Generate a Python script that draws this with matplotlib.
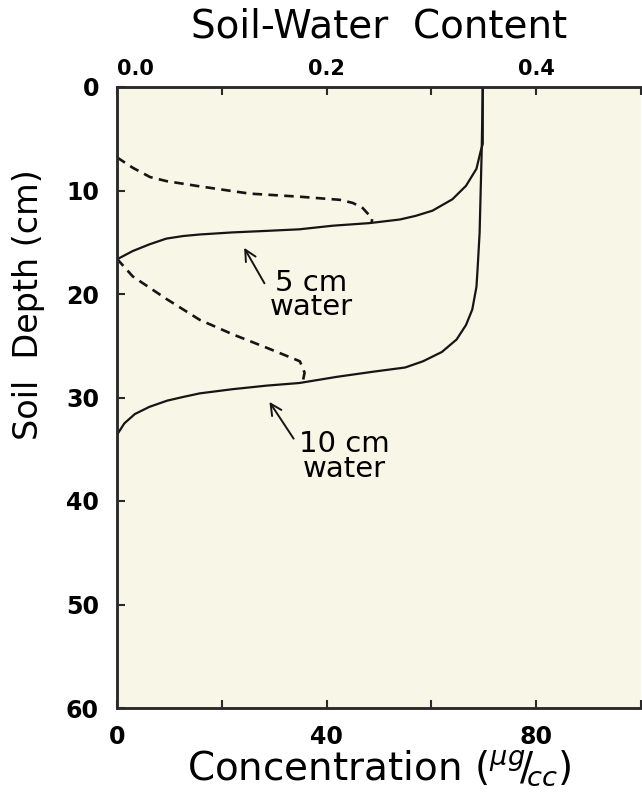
import matplotlib
matplotlib.use("Agg")
import matplotlib.pyplot as plt

# ---- data ----
# soil-water content profiles (top axis, theta) vs depth (cm)
sw5_depth = [0, 5.5, 6.2, 7.9, 9.55, 10.85, 11.95, 12.45, 12.8, 13.15, 13.4, 13.75, 13.9,
             14.05, 14.25, 14.4, 14.65, 15.2, 15.85, 16.65]
sw5_theta = [0.349, 0.349, 0.347, 0.343, 0.333, 0.320, 0.301, 0.285, 0.270, 0.241, 0.206, 0.174, 0.143,
             0.110, 0.079, 0.063, 0.047, 0.031, 0.015, 0.0]

sw10_depth = [0, 6.1, 14.1, 17.7, 19.3, 21.5, 23.0, 24.4, 25.6, 26.5, 27.1, 27.5, 28.0, 28.6,
              28.85, 29.2, 29.6, 29.95, 30.3, 30.9, 31.6, 32.5, 33.6]
sw10_theta = [0.349, 0.348, 0.346, 0.344, 0.343, 0.339, 0.333, 0.324, 0.310, 0.292, 0.275, 0.245, 0.21, 0.174,
              0.143, 0.110, 0.079, 0.063, 0.048, 0.031, 0.017, 0.007, 0.0]

# concentration profiles (bottom axis, ug/cc) vs depth (cm)
c5_depth = [6.8, 7.8, 8.7, 9.1, 9.6, 10.3, 10.6, 10.9, 11.2, 11.7, 12.7, 13.1]
c5_conc = [0, 3.0, 6.3, 9.5, 15.8, 25.3, 34.9, 42.5, 45.0, 46.9, 48.7, 48.6]

c10_depth = [16.6, 18.3, 20.5, 22.5, 23.9, 25.2, 26.5, 27.6, 28.6]
c10_conc = [0, 3.0, 9.5, 15.8, 22.1, 28.6, 34.9, 35.8, 35.4]

conc_ticks = [0, 20, 40, 60, 80, 100]
conc_labels = ["0", "", "40", "", "80", ""]
theta_ticks = [0.0, 0.1, 0.2, 0.3, 0.4, 0.5]
theta_labels = ["0.0", "", "0.2", "", "0.4", ""]
depth_ticks = [0, 10, 20, 30, 40, 50, 60]

plt.rcParams['font.family'] = ['DejaVu Sans']
plt.rcParams['mathtext.fontset'] = 'dejavusans'

fig = plt.figure(figsize=(6.42, 8.06), dpi=100)
ax = fig.add_axes([117/642, 98/806, 524/642, 621/806])
ax.set_facecolor('#f8f6e6')
ax2 = ax.twiny()

spine_c = '#2a2a2a'
line_c = '#151515'
for a in (ax, ax2):
    for s in a.spines.values():
        s.set_color(spine_c)
        s.set_linewidth(1.8)
    a.spines['right'].set_visible(False)

ax.set_xlim(0, 100)
ax.set_ylim(60, 0)
ax2.set_xlim(0, 0.5)

# curves
ax2.plot(sw5_theta, sw5_depth, color=line_c, lw=1.6, solid_joinstyle='round')
ax2.plot(sw10_theta, sw10_depth, color=line_c, lw=1.6, solid_joinstyle='round')
ax.plot(c5_conc, c5_depth, color=line_c, lw=1.9, ls=(0, (3.6, 2.4)))
ax.plot(c10_conc, c10_depth, color=line_c, lw=1.9, ls=(0, (3.6, 2.4)))

# ticks
ax.set_xticks(conc_ticks)
ax.set_xticklabels(conc_labels)
ax.set_yticks(depth_ticks)
ax.set_yticklabels([str(d) for d in depth_ticks])
ax.tick_params(axis='both', direction='in', length=6, width=1.5, color=spine_c,
               labelsize=17, pad=13)
ax.tick_params(axis='x', pad=12)
for lbl in ax.get_xticklabels() + ax.get_yticklabels():
    lbl.set_fontweight('bold')
ax2.set_xticks(theta_ticks)
ax2.set_xticklabels(theta_labels)
ax2.tick_params(axis='x', direction='in', length=6, width=1.5, color=spine_c,
                labelsize=15, pad=6)
for lbl in ax2.get_xticklabels():
    lbl.set_fontweight('bold')
ax2.get_xticklabels()[0].set_ha('left')

ax.set_ylabel('Soil  Depth (cm)', fontsize=24)
ax.yaxis.set_label_coords(-0.137, 0.65)
ax.set_xlabel(r'Concentration ($^{\mu g}\!/\!_{cc}$)', fontsize=28, labelpad=0)
ax2.set_xlabel('Soil-Water  Content', fontsize=28, labelpad=15)

# annotations
ax.annotate('', xy=(24.0, 15.3), xytext=(28.4, 19.2),
            arrowprops=dict(arrowstyle='->', color=line_c, lw=1.4, mutation_scale=20))
ax.text(37.0, 20.1, '5 cm\nwater', fontsize=21, ha='center', va='center',
        multialignment='center', linespacing=0.85)

ax.annotate('', xy=(28.8, 30.2), xytext=(34.0, 34.2),
            arrowprops=dict(arrowstyle='->', color=line_c, lw=1.4, mutation_scale=20))
ax.text(43.4, 35.7, '10 cm\nwater', fontsize=21, ha='center', va='center',
        multialignment='center', linespacing=0.85)

fig.savefig('out.png', dpi=100)
